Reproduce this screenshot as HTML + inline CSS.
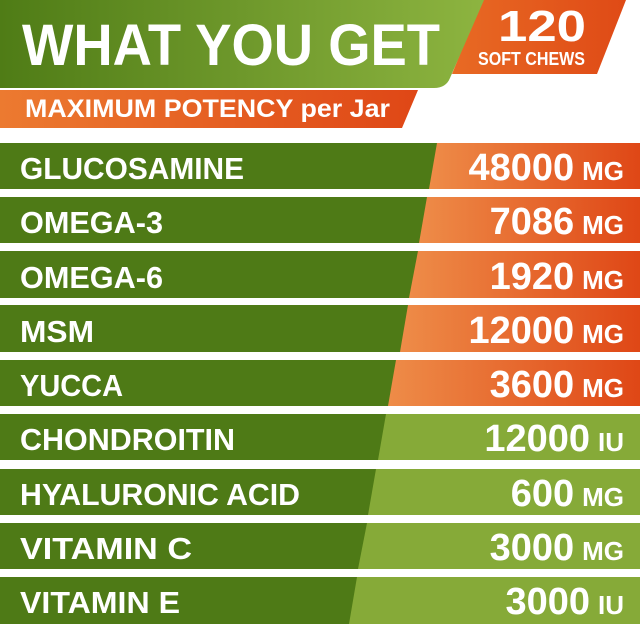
<!DOCTYPE html>
<html><head><meta charset="utf-8"><style>
html,body{margin:0;padding:0;background:#fff;width:640px;height:640px;overflow:hidden}
svg{display:block}
text{font-family:"Liberation Sans",sans-serif;font-weight:bold;fill:#fff}
</style></head><body>
<svg width="640" height="640" viewBox="0 0 640 640" xmlns="http://www.w3.org/2000/svg">
<defs>
<linearGradient id="gh" x1="0" x2="1" y1="0" y2="0"><stop offset="0" stop-color="#4f7c16"/><stop offset="1" stop-color="#8db440"/></linearGradient>
<linearGradient id="go" x1="0" x2="1" y1="0" y2="0"><stop offset="0" stop-color="#ee8c48"/><stop offset="1" stop-color="#df4716"/></linearGradient>
<linearGradient id="gb" x1="0" x2="1" y1="0" y2="0"><stop offset="0" stop-color="#ec7a30"/><stop offset="1" stop-color="#df4716"/></linearGradient>
<linearGradient id="gt" x1="0" x2="1" y1="0" y2="0"><stop offset="0" stop-color="#e86a24"/><stop offset="1" stop-color="#df4a16"/></linearGradient>
</defs>
<!-- orange tab -->
<polygon points="482,0 626,0 597,74 452,74" fill="url(#gt)"/>
<!-- green banner -->
<path d="M0,0 H484 L450,78 Q446,88 434,88 H0 Z" fill="url(#gh)"/>
<!-- orange band -->
<polygon points="0,90 418,90 402,128 0,128" fill="url(#gb)"/>
<text x="22" y="65" font-size="58" textLength="418" lengthAdjust="spacingAndGlyphs">WHAT YOU GET</text>
<text x="498" y="41" font-size="44" textLength="88" lengthAdjust="spacingAndGlyphs">120</text>
<text x="478" y="65" font-size="18" textLength="107" lengthAdjust="spacingAndGlyphs">SOFT CHEWS</text>
<text x="25" y="117" font-size="25" textLength="365" lengthAdjust="spacingAndGlyphs">MAXIMUM POTENCY per Jar</text>

<!-- rows -->
<g id="rows">
<rect x="0" y="143" width="640" height="46" fill="#4e7a16"/>
<polygon points="437,143 640,143 640,189 429,189" fill="url(#go)"/>
<rect x="0" y="197" width="640" height="46" fill="#4e7a16"/>
<polygon points="427,197 640,197 640,243 419,243" fill="url(#go)"/>
<rect x="0" y="251" width="640" height="47" fill="#4e7a16"/>
<polygon points="418,251 640,251 640,298 409,298" fill="url(#go)"/>
<rect x="0" y="305" width="640" height="47" fill="#4e7a16"/>
<polygon points="408,305 640,305 640,352 400,352" fill="url(#go)"/>
<rect x="0" y="360" width="640" height="46" fill="#4e7a16"/>
<polygon points="396,360 640,360 640,406 388,406" fill="url(#go)"/>
<rect x="0" y="414" width="640" height="46" fill="#4e7a16"/>
<polygon points="386,414 640,414 640,460 378,460" fill="#86aa38"/>
<rect x="0" y="469" width="640" height="46" fill="#4e7a16"/>
<polygon points="376,469 640,469 640,515 368,515" fill="#86aa38"/>
<rect x="0" y="523" width="640" height="46" fill="#4e7a16"/>
<polygon points="367,523 640,523 640,569 358,569" fill="#86aa38"/>
<rect x="0" y="577" width="640" height="47" fill="#4e7a16"/>
<polygon points="357,577 640,577 640,624 349,624" fill="#86aa38"/>
</g>

<g font-size="31">
<text x="20" y="179" textLength="224" lengthAdjust="spacingAndGlyphs">GLUCOSAMINE</text>
<text x="20" y="233" textLength="143" lengthAdjust="spacingAndGlyphs">OMEGA-3</text>
<text x="20" y="288" textLength="143" lengthAdjust="spacingAndGlyphs">OMEGA-6</text>
<text x="20" y="342" textLength="74" lengthAdjust="spacingAndGlyphs">MSM</text>
<text x="20" y="396" textLength="103" lengthAdjust="spacingAndGlyphs">YUCCA</text>
<text x="20" y="450" textLength="215" lengthAdjust="spacingAndGlyphs">CHONDROITIN</text>
<text x="20" y="505" textLength="280" lengthAdjust="spacingAndGlyphs">HYALURONIC ACID</text>
<text x="20" y="559" textLength="172" lengthAdjust="spacingAndGlyphs">VITAMIN C</text>
<text x="20" y="613" textLength="160" lengthAdjust="spacingAndGlyphs">VITAMIN E</text>
</g>

<g text-anchor="end">
<text x="624" y="180" font-size="38"><tspan>48000</tspan><tspan font-size="26" dx="8">MG</tspan></text>
<text x="624" y="234" font-size="38"><tspan>7086</tspan><tspan font-size="26" dx="8">MG</tspan></text>
<text x="624" y="289" font-size="38"><tspan>1920</tspan><tspan font-size="26" dx="8">MG</tspan></text>
<text x="624" y="343" font-size="38"><tspan>12000</tspan><tspan font-size="26" dx="8">MG</tspan></text>
<text x="624" y="397" font-size="38"><tspan>3600</tspan><tspan font-size="26" dx="8">MG</tspan></text>
<text x="624" y="451" font-size="38"><tspan>12000</tspan><tspan font-size="26" dx="8">IU</tspan></text>
<text x="624" y="506" font-size="38"><tspan>600</tspan><tspan font-size="26" dx="8">MG</tspan></text>
<text x="624" y="560" font-size="38"><tspan>3000</tspan><tspan font-size="26" dx="8">MG</tspan></text>
<text x="624" y="614" font-size="38"><tspan>3000</tspan><tspan font-size="26" dx="8">IU</tspan></text>
</g>
</svg>
</body></html>
